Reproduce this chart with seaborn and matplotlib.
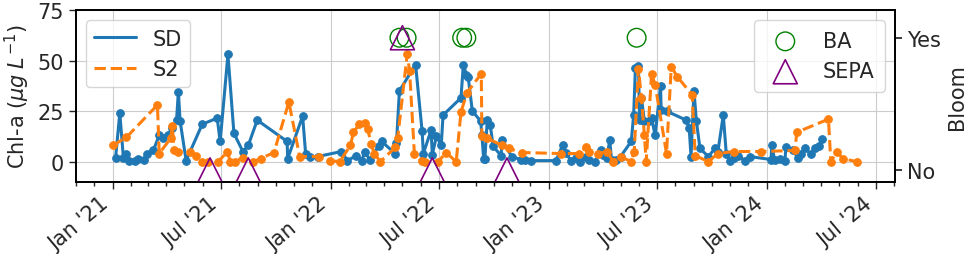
import pandas as pd
import seaborn as sns
import matplotlib.pyplot as plt
import matplotlib.dates as mdates
from matplotlib.lines import Line2D

# --- SD sonde series (Chl-a, ug/L)
sd_dates = ["2021-01-06", "2021-01-13", "2021-01-19", "2021-01-24", "2021-01-29", "2021-02-08",
            "2021-02-13", "2021-02-23", "2021-02-28", "2021-03-10", "2021-03-20", "2021-03-27",
            "2021-04-03", "2021-04-11", "2021-04-18", "2021-04-21", "2021-04-24", "2021-05-04",
            "2021-05-31", "2021-06-25", "2021-06-30", "2021-07-13", "2021-07-23", "2021-08-07",
            "2021-08-16", "2021-08-31", "2021-10-20", "2021-10-21", "2021-11-15", "2021-11-20",
            "2021-11-27", "2021-12-10", "2022-01-19", "2022-01-29", "2022-02-13", "2022-02-22",
            "2022-02-27", "2022-03-07", "2022-03-22", "2022-03-27", "2022-04-19", "2022-04-21",
            "2022-04-26", "2022-05-23", "2022-06-03", "2022-06-05", "2022-06-18", "2022-06-20",
            "2022-06-27", "2022-07-05", "2022-07-08", "2022-08-07", "2022-08-11", "2022-08-16",
            "2022-08-19", "2022-08-26", "2022-09-09", "2022-09-11", "2022-09-14", "2022-09-16",
            "2022-09-20", "2022-09-25", "2022-09-30", "2022-10-13", "2022-10-15", "2022-10-31",
            "2022-11-15", "2022-11-22", "2022-12-02", "2023-01-13", "2023-01-24", "2023-01-29",
            "2023-02-07", "2023-02-15", "2023-02-23", "2023-03-04", "2023-03-09", "2023-03-20",
            "2023-03-29", "2023-04-01", "2023-04-08", "2023-04-13", "2023-04-16", "2023-04-24",
            "2023-05-01", "2023-05-19", "2023-05-23", "2023-05-26", "2023-05-31", "2023-06-02",
            "2023-06-05", "2023-06-10", "2023-06-17", "2023-06-22", "2023-06-28", "2023-07-07",
            "2023-07-08", "2023-07-17", "2023-08-19", "2023-08-24", "2023-08-27", "2023-09-01",
            "2023-09-05", "2023-09-11", "2023-09-25", "2023-10-06", "2023-10-11", "2023-10-20",
            "2023-10-25", "2023-10-31", "2023-11-07", "2023-11-14", "2023-11-25", "2023-12-04",
            "2024-01-08", "2024-01-09", "2024-01-14", "2024-01-23", "2024-01-31", "2024-02-02",
            "2024-02-13", "2024-02-22", "2024-02-27", "2024-03-04", "2024-03-14", "2024-03-21",
            "2024-03-28", "2024-04-03"]
sd_vals = [2, 24, 2, 4, 0.5, 0.5,
           1.5, 1, 4, 5.5, 13, 11.5,
           13, 16.5, 20.5, 34.5, 20, 0.5,
           18.5, 21.5, 10, 53, 14, 5,
           8, 20.5, 10, 1.5, 22.5, 4,
           2.5, 2.5, 5, 0.5, 3, 0.5,
           5, 1, 7.5, 10, 4, 9,
           35, 48, 15, 4, 15.5, 3.5,
           12.5, 8, 23, 31.5, 48, 43,
           42, 25, 20, 13, 1.5, 1.5,
           20.5, 18, 7.5, 3, 10.5, 2.5,
           1, 1, 0.5, 0.5, 8, 4.5,
           0.5, 2, 0, 2.5, 1, 0,
           5.5, 3.5, 2, 10.5, 1, 1,
           2.5, 10, 23, 46.5, 47.5, 20.5,
           31.5, 20, 20, 21.5, 13, 37.5,
           25.5, 25, 20.5, 16.5, 2.5, 35,
           20, 6.5, 2.5, 6.5, 5, 23,
           4, 0.5, 2, 3, 0.5, 2.5,
           1, 8, 1, 1.5, 0.5, 7,
           5.5, 2, 4, 6.5, 4, 6.5,
           7.5, 11]

# --- S2 satellite series
s2_dates = ["2021-01-01", "2021-01-24", "2021-03-17", "2021-03-20", "2021-04-08", "2021-04-11",
            "2021-04-14", "2021-04-21", "2021-05-11", "2021-05-21", "2021-05-31", "2021-06-10",
            "2021-06-27", "2021-07-12", "2021-07-17", "2021-07-25", "2021-08-07", "2021-08-24",
            "2021-09-06", "2021-09-28", "2021-10-23", "2021-11-10", "2021-12-12", "2021-12-30",
            "2022-01-16", "2022-02-03", "2022-02-08", "2022-02-18", "2022-02-28", "2022-03-04",
            "2022-03-10", "2022-03-15", "2022-03-25", "2022-04-19", "2022-04-23", "2022-05-09",
            "2022-05-13", "2022-05-21", "2022-06-02", "2022-06-08", "2022-06-30", "2022-07-13",
            "2022-07-30", "2022-08-07", "2022-08-17", "2022-09-10", "2022-09-11", "2022-09-20",
            "2022-10-15", "2022-10-26", "2022-11-17", "2023-01-21", "2023-02-20", "2023-03-04",
            "2023-03-09", "2023-03-25", "2023-04-08", "2023-04-19", "2023-05-01", "2023-05-19",
            "2023-05-24", "2023-05-31", "2023-06-05", "2023-06-10", "2023-06-13", "2023-06-22",
            "2023-06-28", "2023-07-17", "2023-07-25", "2023-08-04", "2023-08-29", "2023-09-03",
            "2023-09-25", "2023-10-11", "2023-11-07", "2023-12-22", "2024-02-17", "2024-02-20",
            "2024-04-13", "2024-04-17", "2024-04-27", "2024-05-07", "2024-05-30"]
s2_vals = [8, 12, 28, 4, 11.5, 17.5,
           5.5, 5, 5, 3, 0, 0,
           0, 5, 0, 0, 2, 0,
           1.5, 4.5, 29.5, 2.5, 2.5, 0.5,
           0, 8, 14.5, 18.5, 19, 16,
           8.5, 4, 0, 7, 11.5, 53,
           45, 4, 0.5, 0, 0, 4.5,
           0, 24.5, 34, 43.5, 12.5, 11.5,
           8, 6.5, 4.5, 4, 4, 7,
           5, 4, 5, 0, 2.5, 0,
           5, 46, 31.5, 13, 0, 43.5,
           38, 4, 47, 42, 33, 3,
           0, 4, 5, 5, 5.5, 14.5,
           21, 0, 5, 1.5, 0]

# --- bloom reports (1 = Yes, 0 = No)
ba_dates = ["2022-04-26", "2022-05-08", "2022-08-09", "2022-08-16", "2023-05-28"]
ba_flag = [1, 1, 1, 1, 1]
sepa_dates = ["2021-06-13", "2021-08-16", "2022-05-01", "2022-06-20", "2022-10-23"]
sepa_flag = [0, 0, 1, 0, 0]

sd = pd.DataFrame({"date": pd.to_datetime(sd_dates), "chl": sd_vals})
s2 = pd.DataFrame({"date": pd.to_datetime(s2_dates), "chl": s2_vals})
ba = pd.DataFrame({"date": pd.to_datetime(ba_dates), "bloom": ba_flag})
sepa = pd.DataFrame({"date": pd.to_datetime(sepa_dates), "bloom": sepa_flag})

sns.set_theme(style="ticks")
plt.rcParams["font.family"] = ["DejaVu Sans"]
fs = 15

fig, ax = plt.subplots(figsize=(9.69, 2.55), dpi=100)
fig.subplots_adjust(left=0.078, right=0.924, top=0.957, bottom=0.283)

blue, orange = "#1f77b4", "#ff7f0e"
sns.lineplot(data=sd, x="date", y="chl", ax=ax, color=blue, lw=2.2, marker="o",
             markersize=5.5, mec=blue, legend=False)
sns.lineplot(data=s2, x="date", y="chl", ax=ax, color=orange, lw=2.2, linestyle="--",
             marker="o", markersize=5.5, mec=orange, legend=False)

ax.set_ylim(-10, 75)
ax.set_yticks([0, 25, 50, 75])
ax.set_ylabel(r"Chl-a ($\mu g\; L^{-1}$)", fontsize=fs)
ax.set_xlabel("")
ax.grid(True, color="#cccccc", lw=0.8)
ax.set_xlim(pd.Timestamp("2020-10-31"), pd.Timestamp("2024-08-03"))
ax.xaxis.set_major_locator(mdates.MonthLocator(bymonth=[1, 7]))
ax.xaxis.set_minor_locator(mdates.MonthLocator())
ax.xaxis.set_major_formatter(mdates.DateFormatter("%b '%y"))
ax.tick_params(axis="both", labelsize=fs, length=5, width=1)
ax.tick_params(axis="x", which="minor", length=3)
plt.setp(ax.get_xticklabels(), rotation=40, ha="right")

ax.legend(handles=[Line2D([], [], color=blue, lw=2.2, label="SD"),
                   Line2D([], [], color=orange, lw=2.2, ls="--", label="S2")],
          loc="upper left", fontsize=fs, handlelength=2.0)

ax2 = ax.twinx()
sns.scatterplot(data=ba, x="date", y="bloom", ax=ax2, marker="o", s=180,
                facecolor="none", edgecolor="green", linewidth=1, label="BA")
sns.scatterplot(data=sepa, x="date", y="bloom", ax=ax2, marker="^", s=300,
                facecolor="none", edgecolor="purple", linewidth=1.2, label="SEPA")
ax2.set_ylim(-0.09, 1.21)
ax2.set_yticks([0, 1])
ax2.set_yticklabels(["No", "Yes"])
ax2.set_ylabel("Bloom", fontsize=fs)
ax2.tick_params(axis="y", labelsize=fs, length=5)
ax2.legend(loc="upper right", fontsize=fs, borderpad=0.5)

for a in (ax, ax2):
    for s in a.spines.values():
        s.set_color("black")

fig.savefig("out.png", dpi=100)
